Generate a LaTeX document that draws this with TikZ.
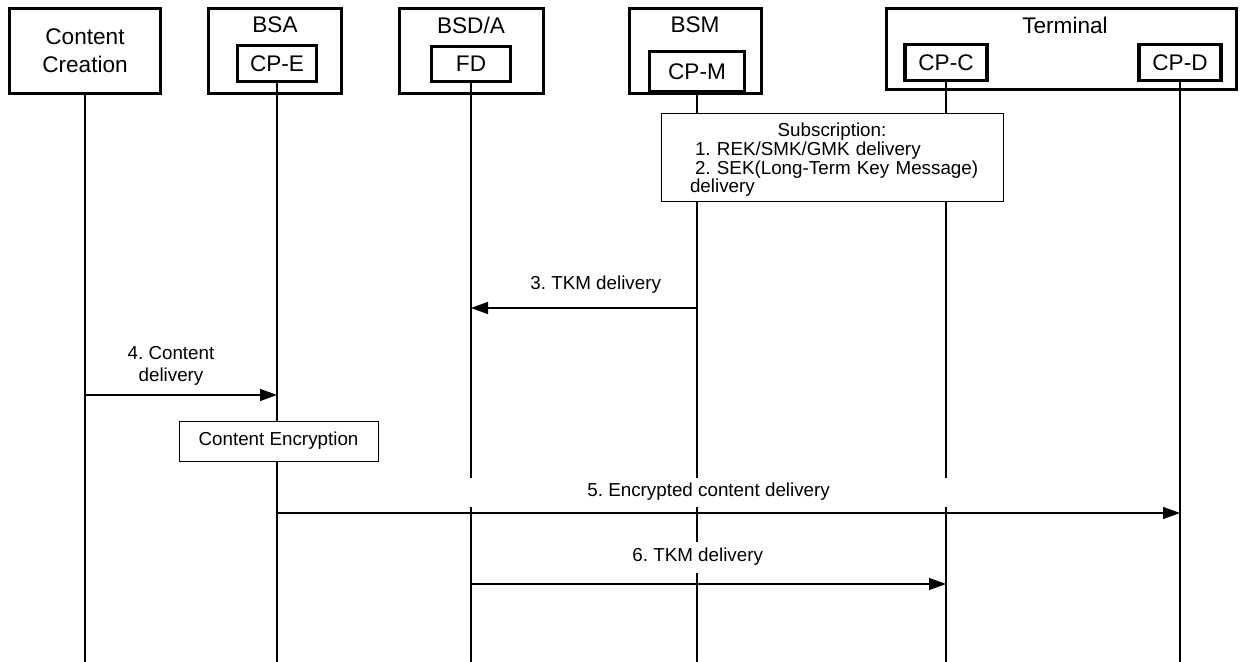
\documentclass[tikz,border=0pt]{standalone}
\usepackage{fontspec}
\setmainfont{Liberation Sans}
\usetikzlibrary{arrows.meta}
\frenchspacing
\begin{document}
\begin{tikzpicture}[x=0.5pt,y=-0.5pt,
  bigbox/.style={draw, line width=1.7pt, inner sep=0pt},
  cpbox/.style={draw, line width=1.7pt, inner sep=0pt, font=\fontsize{11.3}{14}\selectfont},
  hdr/.style={inner sep=0pt, font=\fontsize{11.3}{14}\selectfont},
  life/.style={line width=0.6pt},
  msg/.style={line width=0.6pt, -{Triangle[length=8.5pt,width=6pt]}},
  smallbox/.style={draw, fill=white, line width=0.5pt, inner sep=0pt},
  lbl/.style={inner sep=0pt, font=\fontsize{9.4}{11}\selectfont}]
\useasboundingbox (0,0) rectangle (1241,662);
% helper coordinates (vertical levels)
\coordinate (bot) at (0,662);
\coordinate (ga) at (0,478);
\coordinate (gb) at (0,507);
\coordinate (gc) at (0,542);
\coordinate (gd) at (0,573);
\coordinate (y3) at (0,308);
\coordinate (y4) at (0,395);
\coordinate (y5) at (0,513);
\coordinate (y6) at (0,584);
% header boxes
\node[bigbox, minimum width=75.5pt, minimum height=42.5pt, align=center, font=\fontsize{11.3}{14}\selectfont] (cc) at (85,51) {Content\\Creation};
\node[bigbox, minimum width=66.5pt, minimum height=42.5pt] (bsa) at (275,51) {};
\node[hdr] (bsat) at (275,25) {BSA};
\node[cpbox, minimum width=39.5pt, minimum height=18pt] (cpe) at (277,63.5) {CP-E};
\node[bigbox, minimum width=72pt, minimum height=42.5pt] (bsda) at (471.5,51) {};
\node[hdr] (bsdat) at (471,25) {BSD/A};
\node[cpbox, minimum width=39.5pt, minimum height=17.5pt] (fd) at (471,64) {FD};
\node[bigbox, minimum width=66pt, minimum height=42.5pt] (bsm) at (695.5,51) {};
\node[hdr] (bsmt) at (695,25) {BSM};
\node[cpbox, minimum width=47.5pt, minimum height=20pt] (cpm) at (697,71.5) {CP-M};
\node[bigbox, minimum width=175pt, minimum height=40.5pt] (term) at (1061.5,49) {};
\node[hdr] (termt) at (1065,25) {Terminal};
\node[cpbox, minimum width=41pt, minimum height=18pt] (cpc) at (946,62.5) {CP-C};
\node[cpbox, minimum width=41pt, minimum height=18pt] (cpd) at (1180,62.5) {CP-D};
% lifelines
\draw[life] (cc.south) -- (cc.south |- bot);
\draw[life] (cpe.south) -- (cpe.south |- bot);
\draw[life] (fd.south) -- (fd.south |- ga);
\draw[life] (fd.south |- gb) -- (fd.south |- bot);
\draw[life] (cpm.south) -- (cpm.south |- ga);
\draw[life] (cpm.south |- gb) -- (cpm.south |- gc);
\draw[life] (cpm.south |- gd) -- (cpm.south |- bot);
\draw[life] (cpc.south) -- (cpc.south |- ga);
\draw[life] (cpc.south |- gb) -- (cpc.south |- bot);
\draw[life] (cpd.south) -- (cpd.south |- bot);
% subscription box
\node[smallbox, minimum width=171pt, minimum height=44pt] (sub) at (832,158) {};
\node[inner sep=0pt, text width=142pt, align=left,
      font=\fontsize{9.4}{9.3}\selectfont] (subt) at (832,160)
  {\makebox[\linewidth][c]{Subscription:}\\
   \mbox{\hspace*{2.5pt}1. REK/SMK/GMK delivery}\\
   \mbox{\hspace*{2.5pt}2. SEK(Long-Term Key Message)}\\
   \mbox{delivery}};
% message 3
\draw[msg] (cpm.south |- y3) -- (fd.south |- y3);
\node[lbl, anchor=west] (l3) at (530,285) {3. TKM delivery};
% message 4
\draw[msg] (cc.south |- y4) -- (cpe.south |- y4);
\node[lbl, align=center, font=\fontsize{9.4}{11}\selectfont] (l4) at (171,366) {4. Content\\delivery};
% content encryption
\node[smallbox, minimum width=99.5pt, minimum height=20pt, font=\fontsize{9.4}{11}\selectfont] (enc) at (278.5,441) {Content Encryption};
% message 5
\draw[msg] (cpe.south |- y5) -- (cpd.south |- y5);
\node[lbl, anchor=west] (l5) at (587,492) {5. Encrypted content delivery};
% message 6
\draw[msg] (fd.south |- y6) -- (cpc.south |- y6);
\node[lbl, anchor=west] (l6) at (632,557) {6. TKM delivery};
\end{tikzpicture}
\end{document}
